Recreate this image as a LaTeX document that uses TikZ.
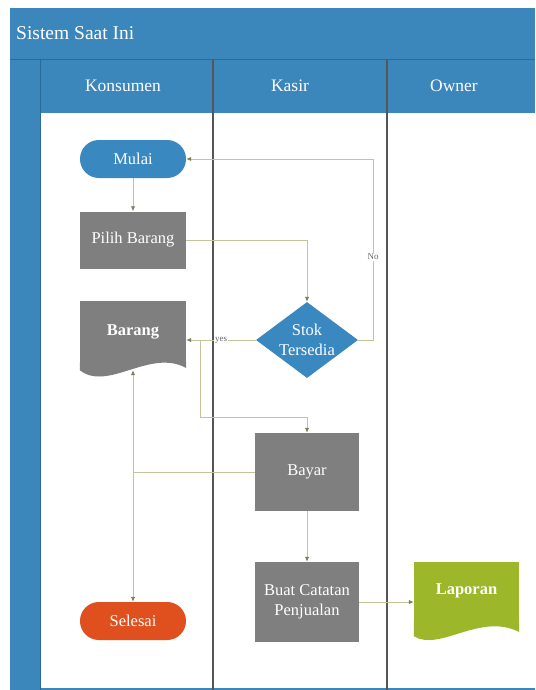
\documentclass[tikz,border=0pt]{standalone}
\usepackage{fontspec}
\setmainfont{Liberation Serif}
\usetikzlibrary{arrows.meta,shapes.geometric,calc}

\definecolor{frameblue}{HTML}{3B86BA}
\definecolor{frameline}{HTML}{2C6A96}
\definecolor{lanegray}{HTML}{555555}
\definecolor{termblue}{HTML}{3A88C0}
\definecolor{procgray}{HTML}{7F7F7F}
\definecolor{endred}{HTML}{E0501F}
\definecolor{docgreen}{HTML}{9CB82A}
\definecolor{flowline}{HTML}{C4C49A}
\definecolor{flowtip}{HTML}{7E7E5E}

\tikzset{
  nodetext/.style={text=white, font=\fontsize{16.5}{19.5}\selectfont, align=center, inner sep=0pt},
  terminal/.style={nodetext, rectangle, rounded corners=18.9pt, minimum width=106pt, minimum height=38pt},
  process/.style={nodetext, rectangle, fill=procgray, minimum width=104pt},
  docbody/.style={nodetext, rectangle, minimum width=106pt},
  decision/.style={nodetext, diamond, fill=termblue, minimum width=102pt, minimum height=76pt, aspect=1.34},
  lanehead/.style={text=white, font=\fontsize{17.5}{20}\selectfont, inner sep=0pt},
  conn/.style={draw=flowline, line width=1pt, -{Latex[length=5pt,width=4.5pt,color=flowtip]}},
  flowlabel/.style={text=black!60, font=\fontsize{9}{10}\selectfont, fill=white, inner sep=1pt}
}

\begin{document}
\begin{tikzpicture}[x=1pt,y=-1pt]
\useasboundingbox (0,0) rectangle (535,690);
\fill[white] (0,0) rectangle (535,690);

% pool frame, title bar and lane headers
\fill[frameblue] (10,8) rectangle (535,690);
\fill[white] (40,113) rectangle (535,688);
\draw[frameline, line width=1pt] (10,60) -- (535,60);
\draw[frameline, line width=1pt] (40,60) -- (40,690);
\draw[lanegray, line width=1.2pt] (213,60) -- (213,690);
\draw[lanegray, line width=1.2pt] (387,60) -- (387,690);

\node[lanehead, font=\fontsize{19.5}{22}\selectfont, anchor=west] (title) at (16,33) {Sistem Saat Ini};
\node[lanehead] (hkonsumen) at (123,86) {Konsumen};
\node[lanehead] (hkasir) at (290,86) {Kasir};
\node[lanehead] (howner) at (454,86) {Owner};

% flow nodes
\node[terminal, fill=termblue] (mulai) at (133,159) {Mulai};
\node[process, minimum width=106pt, minimum height=57pt] (pilih) at (133,240) {Pilih Barang};

\node[docbody, fill=procgray, minimum height=61pt, font=\fontsize{16.5}{19.5}\selectfont\bfseries] (barang) at (133,331.5) {Barang};
\fill[procgray] (barang.south west) -- ++(0,8) .. controls ++(28,22) and (150,348) .. (barang.south east |- 0,368) -- (barang.south east) -- cycle;
\coordinate (barangfoot) at ($(barang.south)+(0,8)$);

\node[decision] (stok) at (307,340) {Stok\\Tersedia};
\node[process, minimum height=78pt] (bayar) at (307,472) {Bayar};
\node[process, minimum height=80pt] (catatan) at (307,602) {Buat Catatan\\Penjualan};

\node[docbody, fill=docgreen, minimum width=105pt, minimum height=58pt, font=\fontsize{16.5}{19.5}\selectfont\bfseries] (laporan) at (466.5,591) {Laporan};
\fill[docgreen] (laporan.south west) -- ++(0,16) .. controls ++(26,16) and (480,612) .. (laporan.south east |- 0,632) -- (laporan.south east) -- cycle;

\node[terminal, fill=endred] (selesai) at (133,621) {Selesai};

% connectors
\draw[conn] (mulai.south) -- (pilih.north);
\draw[conn] (pilih.east) -| (stok.north);
\draw[conn] (stok.east) -- ++(15,0) |- (mulai.east) node[flowlabel, pos=0.23] {No};
\draw[conn] (stok.west) -- (stok.west -| barang.east) node[flowlabel, pos=0.5] {yes};
\coordinate (yesjoin) at ($(stok.west -| barang.east)+(14,0)$);
\draw[conn] (yesjoin) |- ($(bayar.north)+(0,-15)$) -- (bayar.north);
\draw[conn] (bayar.west) -| (barangfoot);
\draw[conn] (bayar.west) -| (selesai.north);
\draw[conn] (bayar.south) -- (catatan.north);
\draw[conn] (catatan.east) -- (catatan.east -| laporan.west);
\end{tikzpicture}
\end{document}
